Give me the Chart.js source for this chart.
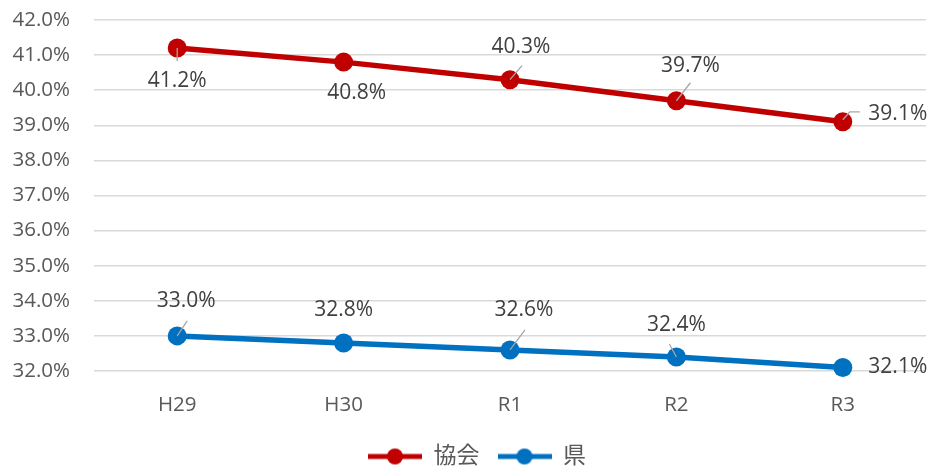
<!DOCTYPE html>
<html>
<head>
<meta charset="utf-8">
<script src="https://cdn.jsdelivr.net/npm/chart.js@4.4.1/dist/chart.umd.min.js"></script>
<style>
    html, body { margin: 0; padding: 0; background: #fff; }
    #wrap { width: 929px; height: 466px; }
</style>
</head>
<body>
<div id="wrap"><canvas id="line-chart" width="929" height="466"></canvas></div>
<script>
    "use strict";

    // data
    const categories = ['H29', 'H30', 'R1', 'R2', 'R3'];
    const seriesNames = ['協会', '県'];
    const kyokaiValues = [41.2, 40.8, 40.3, 39.7, 39.1];
    const kenValues = [33.0, 32.8, 32.6, 32.4, 32.1];
    const yTicks = [32, 33, 34, 35, 36, 37, 38, 39, 40, 41, 42];

    const RED = '#C00000';
    const BLUE = '#0070C0';
    const FONT = "'Open Sans', 'Noto Sans CJK JP', sans-serif";

    // label placement: [dx, dy] of label centre, plus optional leader line points
    const labelLayout = [
        [
            { dx: 0, dy: 33, lead: [[0, 0], [0, 13]] },
            { dx: 13, dy: 31 },
            { dx: 11, dy: -33, lead: [[0, 0], [12, -14]] },
            { dx: 14, dy: -35, lead: [[0, 0], [14, -18]] },
            { dx: 55, dy: -8, lead: [[0, -2], [7, -10], [17, -10]] }
        ],
        [
            { dx: 9, dy: -35, lead: [[0, 0], [10, -15]] },
            { dx: 0, dy: -33 },
            { dx: 14, dy: -40, lead: [[0, 0], [15, -20]] },
            { dx: 0, dy: -32, lead: [[-7, -13], [0, 0]] },
            { dx: 55, dy: 0 }
        ]
    ];

    // Legend swatch: line with a dot
    function swatch(color) {
        const c = document.createElement('canvas');
        c.width = 54;
        c.height = 18;
        const g = c.getContext('2d');
        g.strokeStyle = color;
        g.lineWidth = 5;
        g.beginPath();
        g.moveTo(0, 9);
        g.lineTo(54, 9);
        g.stroke();
        g.fillStyle = color;
        g.beginPath();
        g.arc(27, 9, 8, 0, Math.PI * 2);
        g.fill();
        return c;
    }
    const swatches = [swatch(RED), swatch(BLUE)];

    // Data labels with leader lines
    const dataLabels = {
        id: 'dataLabels',
        afterDatasetsDraw(chart) {
            const ctx = chart.ctx;
            ctx.save();
            chart.data.datasets.forEach(function (ds, di) {
                const meta = chart.getDatasetMeta(di);
                meta.data.forEach(function (pt, i) {
                    const lay = labelLayout[di][i];
                    if (lay.lead) {
                        ctx.strokeStyle = '#a6a6a6';
                        ctx.lineWidth = 1.3;
                        ctx.beginPath();
                        lay.lead.forEach(function (p, k) {
                            if (k === 0) ctx.moveTo(pt.x + p[0], pt.y + p[1]);
                            else ctx.lineTo(pt.x + p[0], pt.y + p[1]);
                        });
                        ctx.stroke();
                    }
                    ctx.fillStyle = '#404040';
                    ctx.font = '21px ' + FONT;
                    ctx.textAlign = 'center';
                    ctx.textBaseline = 'middle';
                    ctx.fillText(ds.data[i].toFixed(1) + '%', pt.x + lay.dx, pt.y + lay.dy);
                });
            });
            ctx.restore();
        }
    };

    // nudge legend a little right, as in the original
    const legendShift = {
        id: 'legendShift',
        afterLayout(chart) {
            if (chart.legend) {
                chart.legend.left += 14;
                chart.legend.right += 14;
            }
        }
    };

    const ctx = document.getElementById('line-chart').getContext('2d');
    new Chart(ctx, {
        type: 'line',
        data: {
            labels: categories,
            datasets: [{
                label: seriesNames[0],
                data: kyokaiValues,
                borderColor: RED,
                backgroundColor: RED,
                borderWidth: 5.5,
                pointRadius: 9.5,
                pointHoverRadius: 9.5,
                pointBorderWidth: 0,
                tension: 0,
                clip: false
            }, {
                label: seriesNames[1],
                data: kenValues,
                borderColor: BLUE,
                backgroundColor: BLUE,
                borderWidth: 5.5,
                pointRadius: 9.5,
                pointHoverRadius: 9.5,
                pointBorderWidth: 0,
                tension: 0,
                clip: false
            }]
        },
        options: {
            responsive: false,
            animation: false,
            layout: { autoPadding: false, padding: { top: 20, right: 3, left: 0, bottom: -12 } },
            plugins: {
                tooltip: { enabled: false },
                legend: {
                    position: 'bottom',
                    labels: {
                        usePointStyle: true,
                        pointStyleWidth: 54,
                        padding: 18,
                        color: '#595959',
                        font: { family: FONT, size: 23 },
                        generateLabels(chart) {
                            const items = Chart.defaults.plugins.legend.labels.generateLabels(chart);
                            items.forEach(function (it, k) { it.pointStyle = swatches[k]; });
                            return items;
                        }
                    }
                }
            },
            scales: {
                x: {
                    offset: true,
                    grid: { display: false, drawTicks: false },
                    border: { display: false },
                    ticks: { padding: 22, color: '#595959', font: { family: FONT, size: 20.5 } },
                    afterFit(scale) {
                        scale.height = 56;
                        scale.paddingLeft = 0;
                        scale.paddingRight = 0;
                    }
                },
                y: {
                    min: yTicks[0],
                    max: yTicks[yTicks.length - 1],
                    afterBuildTicks(scale) { scale.ticks = yTicks.map(function (v) { return { value: v }; }); },
                    grid: { color: '#d9d9d9', lineWidth: 1.5, drawTicks: false },
                    border: { display: false },
                    ticks: {
                        padding: 24,
                        color: '#595959',
                        font: { family: FONT, size: 20.5 },
                        callback(v) { return Number(v).toFixed(1) + '%'; }
                    },
                    afterFit(scale) {
                        scale.width = 94;
                        scale.paddingTop = 0;
                        scale.paddingBottom = 0;
                    }
                }
            }
        },
        plugins: [dataLabels, legendShift]
    });
</script>
</body>
</html>
